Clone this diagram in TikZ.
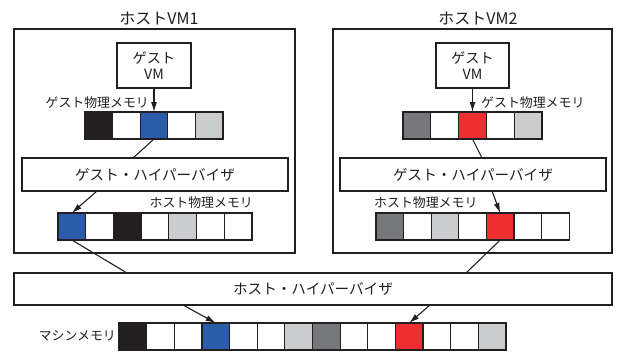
\documentclass[tikz,border=0pt]{standalone}
\usepackage{fontspec}
\setmainfont{Noto Sans CJK JP}
\usetikzlibrary{arrows.meta}
\definecolor{ink}{HTML}{231F20}
\definecolor{mblue}{HTML}{2A5CAA}
\definecolor{mred}{HTML}{EE2E30}
\definecolor{mlight}{HTML}{CBCCCE}
\definecolor{mdark}{HTML}{77787B}
\tikzset{
  box/.style={draw=ink, line width=1.4pt, fill=white, anchor=north west, inner sep=0pt, outer sep=0pt},
  cell/.style={draw=ink, line width=1.2pt, minimum height=27pt, inner sep=0pt, outer sep=0pt, anchor=north west},
  arr/.style={draw=ink, line width=1.1pt, -{Latex[length=10pt,width=6pt]}},
  ln/.style={draw=ink, line width=1.1pt},
  ttl/.style={text=ink, font=\fontsize{16}{18}\selectfont, inner sep=0pt},
  hyp/.style={text=ink, font=\fontsize{14.6}{16}\selectfont, inner sep=0pt},
  lab/.style={text=ink, font=\fontsize{12.9}{14}\selectfont, inner sep=0pt},
  vmtxt/.style={text=ink, font=\fontsize{14.2}{15.5}\selectfont, align=center, inner sep=0pt}
}
\begin{document}
\begin{tikzpicture}[x=1pt,y=-1pt]
\useasboundingbox (0,0) rectangle (617,351);
% host VM boxes
\node[box, minimum width=281pt, minimum height=224pt] (hvm1) at (14,29) {};
\node[box, minimum width=279pt, minimum height=224pt] (hvm2) at (333,29) {};
\node[ttl] (t1) at (159,18) {ホストVM1};
\node[ttl] (t2) at (478,18) {ホストVM2};
% guest VMs
\node[box, minimum width=74pt, minimum height=45pt] (gvm1) at (117,43) {};
\node[vmtxt] (gvm1t) at (gvm1.center) {ゲスト\\VM};
\node[box, minimum width=73pt, minimum height=45pt] (gvm2) at (436,43) {};
\node[vmtxt] (gvm2t) at (gvm2.center) {ゲスト\\VM};
% guest physical memory
\foreach \c [count=\i] in {ink,white,mblue,white,mlight}
  \node[cell, fill=\c, minimum width=27.6pt] (ga\i) at ({85+(\i-1)*27.6},112) {};
\foreach \c [count=\i] in {mdark,white,mred,white,mlight}
  \node[cell, fill=\c, minimum width=27.8pt] (gb\i) at ({403+(\i-1)*27.8},112) {};
\node[lab, anchor=east] (lg1) at (149,103) {ゲスト物理メモリ};
\node[lab, anchor=west] (lg2) at (481,103) {ゲスト物理メモリ};
% guest hypervisors
\node[box, minimum width=266pt, minimum height=33pt] (gh1) at (22,158) {};
\node[hyp] (gh1t) at (gh1.center) {ゲスト・ハイパーバイザ};
\node[box, minimum width=266pt, minimum height=33pt] (gh2) at (340,158) {};
\node[hyp] (gh2t) at (gh2.center) {ゲスト・ハイパーバイザ};
% host physical memory
\foreach \c [count=\i] in {mblue,white,ink,white,mlight,white,white}
  \node[cell, fill=\c, minimum width=27.7pt] (ha\i) at ({58+(\i-1)*27.7},213) {};
\foreach \c [count=\i] in {mdark,white,mlight,white,mred,white,white}
  \node[cell, fill=\c, minimum width=27.6pt] (hb\i) at ({376+(\i-1)*27.6},213) {};
\node[lab, anchor=east] (lh1) at (253,203) {ホスト物理メモリ};
\node[lab, anchor=west] (lh2) at (374,203) {ホスト物理メモリ};
% host hypervisor
\node[box, minimum width=598pt, minimum height=32pt] (hh) at (14,273) {};
\node[hyp] (hht) at (hh.center) {ホスト・ハイパーバイザ};
% machine memory
\foreach \c [count=\i] in {ink,white,white,mblue,white,white,mlight,mdark,white,white,mred,white,white,mlight}
  \node[cell, fill=\c, minimum width=27.64pt] (m\i) at ({119+(\i-1)*27.64},323) {};
\node[lab, anchor=east] (lm) at (116,336) {マシンメモリ};
% helper coordinates
\coordinate (c1) at (133,0);
\coordinate (c2) at (97,0);
\coordinate (c3) at (127,0);
\coordinate (c4) at (183,0);
\coordinate (c5) at (482,0);
\coordinate (c6) at (492,0);
\coordinate (c7) at (466,0);
\coordinate (c8) at (430,0);
% connectors
\draw[arr] (gvm1.south) -- (ga3.north);
\draw[ln] (ga3.south) -- (gh1.north -| c1);
\draw[arr] (gh1.south -| c2) -- (ha1.north);
\draw[ln] (ha1.south) -- (hh.north -| c3);
\draw[arr] (hh.south -| c4) -- (m4.north);
\draw[arr] (gvm2.south) -- (gb3.north);
\draw[ln] (gb3.south) -- (gh2.north -| c5);
\draw[arr] (gh2.south -| c6) -- (hb5.north);
\draw[ln] (hb5.south) -- (hh.north -| c7);
\draw[arr] (hh.south -| c8) -- (m11.north);
\end{tikzpicture}
\end{document}
